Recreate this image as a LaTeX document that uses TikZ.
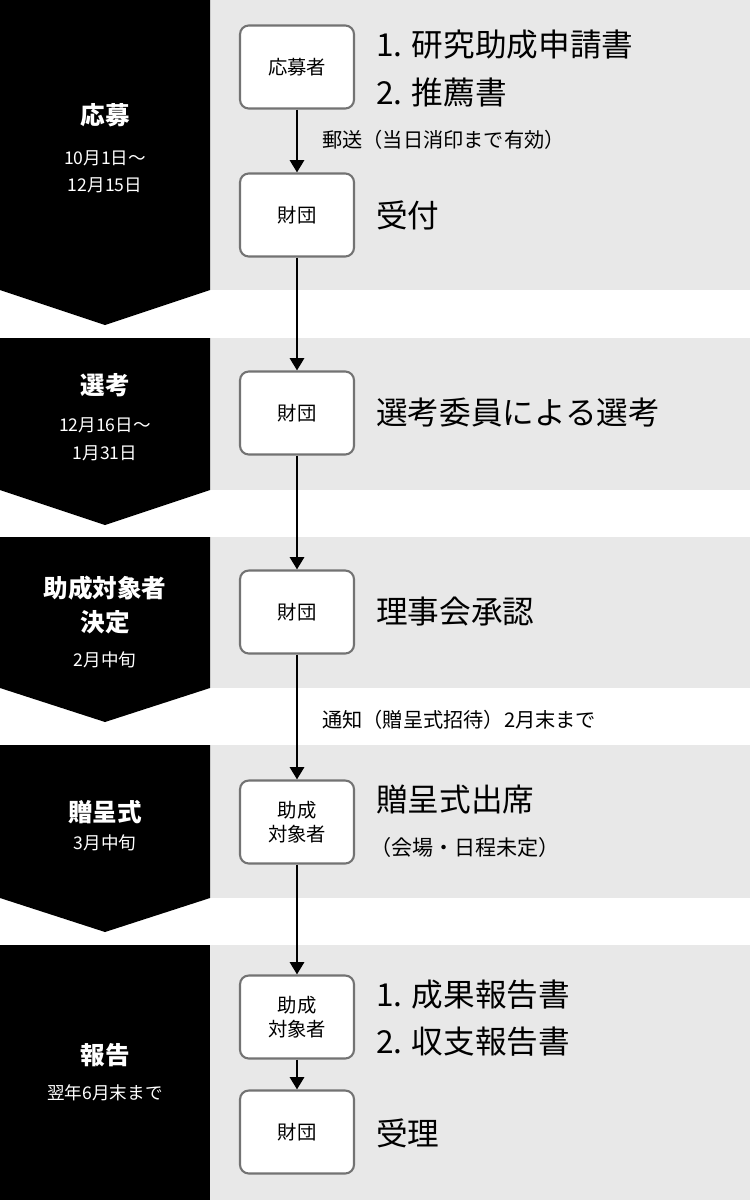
\documentclass[tikz,border=0pt]{standalone}
\usepackage{fontspec}
\setmainfont{Noto Sans CJK JP}
\usetikzlibrary{arrows.meta}
\begin{document}
\begin{tikzpicture}[x=0.02cm,y=-0.02cm,
  box/.style={draw=black!55,line width=1.2pt,fill=white,rounded corners=5pt,minimum width=2.28cm,minimum height=1.66cm,font=\fontsize{11}{14}\selectfont,align=center},
  ttl/.style={text=white,font=\bfseries\fontsize{14}{17}\selectfont,align=center},
  dt/.style={text=white,font=\fontsize{10}{13}\selectfont},
  big/.style={anchor=west,font=\fontsize{18}{22}\selectfont},
  note/.style={anchor=west,font=\fontsize{11.5}{14}\selectfont},
  arr/.style={line width=1.5pt,-{Triangle[length=7pt,width=8pt]}}]
\useasboundingbox (0,0) rectangle (750,1200);
% gray bands
\fill[black!9] (210,0) rectangle (750,290);
\fill[black!9] (210,338) rectangle (750,490);
\fill[black!9] (210,537) rectangle (750,688);
\fill[black!9] (210,745) rectangle (750,898);
\fill[black!9] (210,945) rectangle (750,1200);
% black blocks
\fill (0,0) -- (210,0) -- (210,290) -- (105,325) -- (0,290) -- cycle;
\fill (0,338) -- (210,338) -- (210,490) -- (105,525) -- (0,490) -- cycle;
\fill (0,537) -- (210,537) -- (210,688) -- (105,722) -- (0,688) -- cycle;
\fill (0,745) -- (210,745) -- (210,898) -- (105,932) -- (0,898) -- cycle;
\fill (0,945) rectangle (210,1200);
% left texts
\node[ttl] (t1) at (105,115) {応募};
\node[dt] (d1a) at (105,158) {10月1日～};
\node[dt] (d1b) at (105,185) {12月15日};
\node[ttl] (t2) at (105,385) {選考};
\node[dt] (d2a) at (105,425) {12月16日～};
\node[dt] (d2b) at (105,453) {1月31日};
\node[ttl] (t3) at (105,588) {助成対象者};
\node[ttl] (t3b) at (105,622) {決定};
\node[dt] (d3) at (105,660) {2月中旬};
\node[ttl] (t4) at (105,812) {贈呈式};
\node[dt] (d4) at (105,843) {3月中旬};
\node[ttl] (t5) at (105,1055) {報告};
\node[dt] (d5) at (105,1093) {翌年6月末まで};
% boxes
\node[box] (b1) at (297,67) {応募者};
\node[box] (b2) at (297,215) {財団};
\node[box] (b3) at (297,413) {財団};
\node[box] (b4) at (297,612) {財団};
\node[box] (b5) at (297,822) {助成\\対象者};
\node[box] (b6) at (297,1017) {助成\\対象者};
\node[box] (b7) at (297,1132) {財団};
\draw[arr] (b1) -- (b2);
\draw[arr] (b2) -- (b3);
\draw[arr] (b3) -- (b4);
\draw[arr] (b4) -- (b5);
\draw[arr] (b5) -- (b6);
\draw[arr] (b6) -- (b7);
% right texts
\node[big] (r1) at (370,45) {1. 研究助成申請書};
\node[big] (r2) at (370,92) {2. 推薦書};
\node[note] (n1) at (316,140) {郵送（当日消印まで有効）};
\node[big] (r3) at (370,215) {受付};
\node[big] (r4) at (370,413) {選考委員による選考};
\node[big] (r5) at (370,612) {理事会承認};
\node[note] (n2) at (316,720) {通知（贈呈式招待）2月末まで};
\node[big] (r6) at (370,800) {贈呈式出席};
\node[note,font=\fontsize{12}{14}\selectfont] (n3) at (364,847) {（会場・日程未定）};
\node[big] (r7) at (370,995) {1. 成果報告書};
\node[big] (r8) at (370,1042) {2. 収支報告書};
\node[big] (r9) at (370,1133) {受理};
\end{tikzpicture}
\end{document}
